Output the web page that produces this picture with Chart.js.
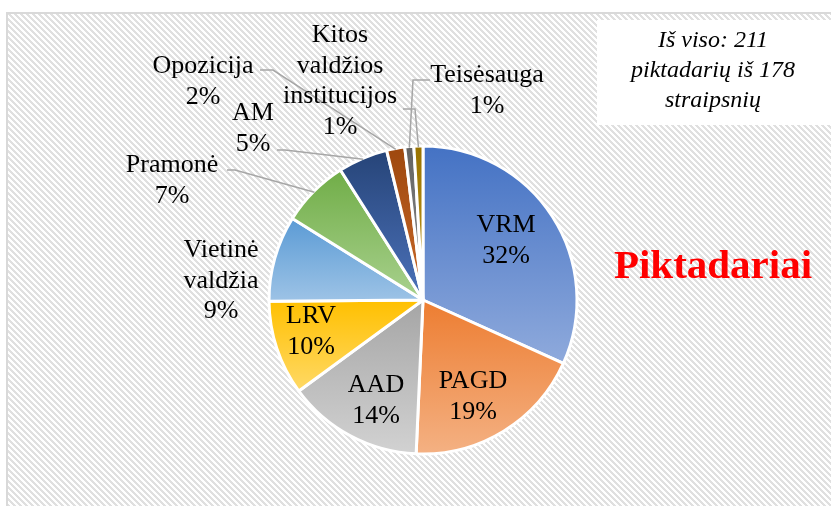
<!DOCTYPE html>
<html>
<head>
<meta charset="utf-8">
<script src="https://cdn.jsdelivr.net/npm/chart.js@4/dist/chart.umd.min.js"></script>
<style>
  body { margin: 0; background: #fff; }
  canvas { display: block; }
</style>
</head>
<body>
<canvas id="pie" width="831" height="506"></canvas>
<script>
// categories in the order Excel drew them (clockwise from 12 o'clock)
const categories = [
    'VRM', 'PAGD', 'AAD', 'LRV', ['Vietinė', 'valdžia'], 'Pramonė', 'AM',
    'Opozicija', 'Teisėsauga', ['Kitos', 'valdžios', 'institucijos']
];
// number of villains per institution (211 in total)
const counts = [67, 40, 30, 21, 19, 15, 11, 4, 2, 2];

const totalText = ['Iš viso: 211', 'piktadarių iš 178', 'straipsnių'];
const titleText = 'Piktadariai';

// gradient: top colour -> bottom colour of every slice
const topColors = ['#4472C4', '#ED7D31', '#A5A5A5', '#FFC000', '#5B9BD5', '#70AD47', '#264478', '#9E480E', '#636363', '#997300'];
const bottomColors = ['#8FAADC', '#F4B183', '#D2D2D2', '#FFD966', '#9DC3E6', '#A9D18E', '#4C72BA', '#C9692A', '#8C8C8C', '#C49A1E'];

// where each label sits: centre x, first baseline y, optional leader line start
const labelSpots = [
    { x: 506, y: 232 },
    { x: 473, y: 388 },
    { x: 376, y: 392 },
    { x: 311, y: 323 },
    { x: 221, y: 257 },
    { x: 172, y: 172, leader: [[227, 170], [235, 170]] },
    { x: 253, y: 120, leader: [[277, 150], [285, 150]] },
    { x: 203, y: 73, leader: [[260, 70], [273, 70]] },
    { x: 487, y: 82, leader: [[430, 80], [413, 80]] },
    { x: 340, y: 42, leader: [[403, 109], [415, 109]] }
];

const FONT = "'Liberation Serif', 'Times New Roman', serif";
const PIE_RADIUS = 154;

function sliceGradient(context) {
    const chart = context.chart;
    const i = context.dataIndex;
    const area = chart.chartArea;
    if (!area) return topColors[i];
    const cx = (area.left + area.right) / 2;
    const cy = (area.top + area.bottom) / 2;
    const total = counts.reduce((a, b) => a + b, 0);
    let before = 0;
    for (let k = 0; k < i; k++) before += counts[k];
    const a0 = -Math.PI / 2 + 2 * Math.PI * before / total;
    const a1 = -Math.PI / 2 + 2 * Math.PI * (before + counts[i]) / total;
    const ys = [cy, cy + PIE_RADIUS * Math.sin(a0), cy + PIE_RADIUS * Math.sin(a1)];
    // top (-90deg / 270deg) or bottom (90deg) inside the slice?
    [-Math.PI / 2, Math.PI / 2, 3 * Math.PI / 2].forEach(a => {
        if (a >= a0 && a <= a1) ys.push(cy + PIE_RADIUS * Math.sin(a));
    });
    const yTop = Math.min(...ys);
    const yBot = Math.max(...ys);
    const g = chart.ctx.createLinearGradient(0, yTop, 0, yBot);
    g.addColorStop(0, topColors[i]);
    g.addColorStop(1, bottomColors[i]);
    return g;
}

function hatchPattern(ctx) {
    const tile = document.createElement('canvas');
    tile.width = 6;
    tile.height = 6;
    const t = tile.getContext('2d');
    t.fillStyle = '#ffffff';
    t.fillRect(0, 0, 6, 6);
    t.fillStyle = '#e0e0e0';
    for (let y = 0; y < 6; y++) {
        for (let x = 0; x < 6; x++) {
            if (((x - y) % 6 + 6) % 6 < 3) t.fillRect(x, y, 1, 1);
        }
    }
    return ctx.createPattern(tile, 'repeat');
}

// hatched chart area, frame and the white "total" box
const backdrop = {
    id: 'backdrop',
    beforeDraw(chart) {
        const ctx = chart.ctx;
        ctx.save();
        ctx.fillStyle = '#fff';
        ctx.fillRect(0, 0, chart.width, chart.height);
        ctx.fillStyle = hatchPattern(ctx);
        ctx.fillRect(7, 13, chart.width, chart.height);
        ctx.strokeStyle = '#d9d9d9';
        ctx.lineWidth = 2;
        ctx.beginPath();
        ctx.moveTo(7, chart.height + 2);
        ctx.lineTo(7, 13);
        ctx.lineTo(chart.width + 2, 13);
        ctx.stroke();

        ctx.fillStyle = '#fff';
        ctx.fillRect(597, 20, chart.width - 597, 105);
        ctx.fillStyle = '#000';
        ctx.font = 'italic 24px ' + FONT;
        ctx.textAlign = 'center';
        ctx.textBaseline = 'alphabetic';
        totalText.forEach((line, k) => ctx.fillText(line, 713, 47 + k * 30));

        ctx.fillStyle = '#ff0000';
        ctx.font = 'bold 41px ' + FONT;
        ctx.fillText(titleText, 713, 278);
        ctx.restore();
    }
};

// category + percentage labels, leader lines for the small slices
const sliceLabels = {
    id: 'sliceLabels',
    afterDatasetsDraw(chart) {
        const ctx = chart.ctx;
        const meta = chart.getDatasetMeta(0);
        const total = counts.reduce((a, b) => a + b, 0);
        ctx.save();
        meta.data.forEach((arc, i) => {
            const spot = labelSpots[i];
            if (spot.leader) {
                const mid = (arc.startAngle + arc.endAngle) / 2;
                const ex = arc.x + Math.cos(mid) * (arc.outerRadius - 1);
                const ey = arc.y + Math.sin(mid) * (arc.outerRadius - 1);
                ctx.strokeStyle = '#a6a6a6';
                ctx.lineWidth = 1.5;
                ctx.beginPath();
                ctx.moveTo(spot.leader[0][0], spot.leader[0][1]);
                spot.leader.slice(1).forEach(p => ctx.lineTo(p[0], p[1]));
                ctx.lineTo(ex, ey);
                ctx.stroke();
            }
            const lines = [].concat(categories[i], Math.round(counts[i] / total * 100) + '%');
            ctx.fillStyle = '#000';
            ctx.font = '26px ' + FONT;
            ctx.textAlign = 'center';
            ctx.textBaseline = 'alphabetic';
            lines.forEach((line, k) => ctx.fillText(line, spot.x, spot.y + k * 30.5));
        });
        ctx.restore();
    }
};

new Chart(document.getElementById('pie'), {
    type: 'pie',
    data: {
        labels: categories,
        datasets: [{
            data: counts,
            backgroundColor: sliceGradient,
            borderColor: '#ffffff',
            borderWidth: 3
        }]
    },
    options: {
        responsive: false,
        animation: false,
        radius: PIE_RADIUS,
        layout: { padding: { left: 115, right: 100, top: 120, bottom: 26 } },
        plugins: {
            legend: { display: false },
            tooltip: { enabled: false }
        }
    },
    plugins: [backdrop, sliceLabels]
});
</script>
</body>
</html>
